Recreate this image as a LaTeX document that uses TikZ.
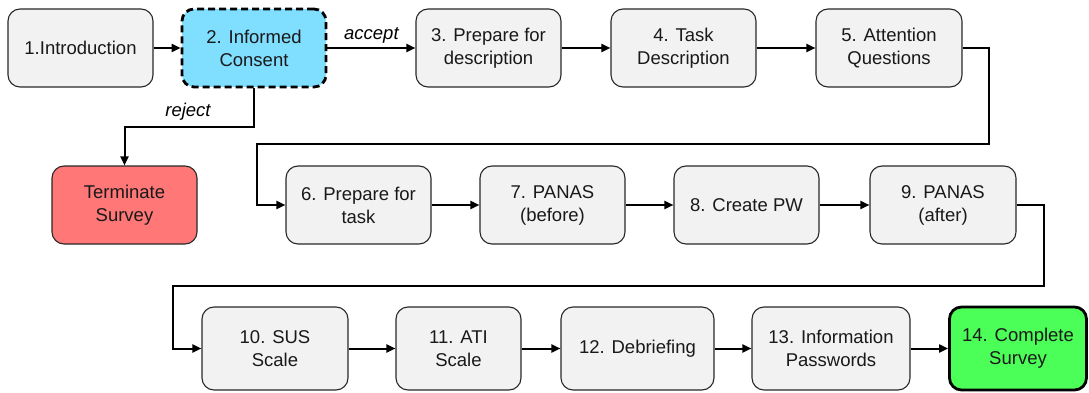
\documentclass[tikz,border=0pt]{standalone}
\usepackage{fontspec}
\setmainfont{Liberation Sans}
\usetikzlibrary{arrows.meta}
\definecolor{boxgray}{RGB}{242,242,242}
\definecolor{consentblue}{RGB}{128,222,255}
\definecolor{termred}{RGB}{255,119,119}
\definecolor{donegreen}{RGB}{76,255,88}
\definecolor{edgegray}{RGB}{40,40,40}
\tikzset{
  box/.style={draw=edgegray, line width=1.1pt, rounded corners=12pt, fill=boxgray,
    align=center, inner sep=0pt, minimum height=78pt, text=black!90,
    font=\fontsize{18.5}{23}\selectfont},
  tallbox/.style={box, minimum height=83pt},
  arr/.style={line width=2pt, draw=black, -{Triangle[length=9pt,width=8pt]}},
  lbl/.style={font=\fontsize{18.5}{23}\selectfont\itshape, inner sep=1pt}
}
\begin{document}
\begin{tikzpicture}[x=1pt,y=-1pt]
\useasboundingbox (0,0) rectangle (1089,393);
% row 1
\node[box, minimum width=145pt] (n1) at (80.5,48) {1.Introduction};
\node[box, minimum width=144pt, fill=consentblue, draw=black, line width=2.8pt,
      dash pattern=on 7pt off 4pt] (n2) at (254,48) {2. Informed\\Consent};
\node[box, minimum width=145pt] (n3) at (488.5,48) {3. Prepare for\\description};
\node[box, minimum width=145pt] (n4) at (683.5,48) {4. Task\\Description};
\node[box, minimum width=146pt] (n5) at (889,48) {5. Attention\\Questions};
% row 2
\node[box, minimum width=145pt, fill=termred] (t) at (124.5,205) {Terminate\\Survey};
\node[box, minimum width=145pt] (n6) at (358.5,205) {6. Prepare for\\task};
\node[box, minimum width=145pt] (n7) at (552.5,205) {7. PANAS\\(before)};
\node[box, minimum width=145pt] (n8) at (746.5,205) {8. Create PW};
\node[box, minimum width=146pt] (n9) at (943,205) {9. PANAS\\(after)};
% row 3
\node[tallbox, minimum width=146pt] (n10) at (275,348.5) {10. SUS\\Scale};
\node[tallbox, minimum width=125pt] (n11) at (458.5,348.5) {11. ATI\\Scale};
\node[tallbox, minimum width=153pt] (n12) at (637.5,348.5) {12. Debriefing};
\node[tallbox, minimum width=158pt] (n13) at (831,348.5) {13. Information\\Passwords};
\node[tallbox, minimum width=137pt, fill=donegreen, draw=black, line width=2.8pt] (n14) at (1018,348.5) {14. Complete\\Survey};
% bend points
\coordinate (r1) at (254,127);
\coordinate (c1) at (989,144);
\coordinate (c2) at (257,144);
\coordinate (c3) at (1044,286);
\coordinate (c4) at (173,286);
% connectors
\draw[arr] (n1) -- (n2);
\draw[arr] (n2) -- node[lbl, above=3pt] {accept} (n3);
\draw[arr] (n2.south) -- (r1) -| (t.north);
\node[lbl] (rl) at (188,112) {reject};
\draw[arr] (n3) -- (n4);
\draw[arr] (n4) -- (n5);
\draw[arr] (n5.east) -| (c1) -- (c2) |- (n6.west);
\draw[arr] (n6) -- (n7);
\draw[arr] (n7) -- (n8);
\draw[arr] (n8) -- (n9);
\draw[arr] (n9.east) -| (c3) -- (c4) |- (n10.west);
\draw[arr] (n10) -- (n11);
\draw[arr] (n11) -- (n12);
\draw[arr] (n12) -- (n13);
\draw[arr] (n13) -- (n14);
\end{tikzpicture}
\end{document}
